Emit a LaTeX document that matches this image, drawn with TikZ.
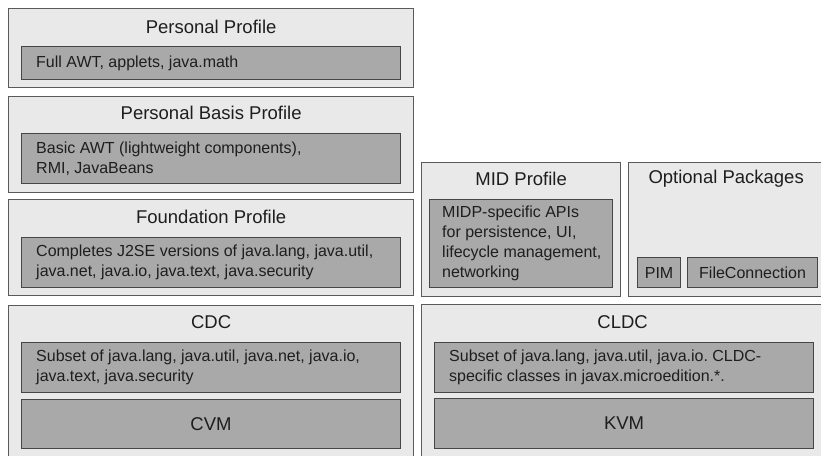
\documentclass[tikz,border=0pt]{standalone}
\usepackage{fontspec}
\setmainfont{Liberation Sans}
\frenchspacing
\definecolor{ofill}{HTML}{E9E9E9}
\definecolor{ifill}{HTML}{A9A9A9}
\definecolor{edge}{HTML}{5A5A5A}
\definecolor{iedge}{HTML}{464646}
\definecolor{ink}{HTML}{1E1E1E}
\begin{document}
\begin{tikzpicture}[x=1pt,y=-1pt,
 obox/.style={draw=edge, fill=ofill, line width=1.3pt, anchor=north west, inner sep=0pt},
 ibox/.style={draw=iedge, fill=ifill, line width=1.1pt, anchor=north west, inner sep=0pt},
 btxt/.style={anchor=west, inner sep=0pt, align=left, text=ink, font=\fontsize{16}{20}\selectfont\frenchspacing},
 vbox/.style={draw=iedge, fill=ifill, line width=1.1pt, anchor=north west, inner sep=0pt, align=center, text=ink, font=\fontsize{18.5}{22}\selectfont},
 pbox/.style={draw=iedge, fill=ifill, line width=1.1pt, anchor=north west, inner sep=0pt, align=center, text=ink, font=\fontsize{16}{20}\selectfont},
 ttl/.style={text=ink, font=\fontsize{18.5}{22}\selectfont, inner sep=0pt},
 ]
\useasboundingbox (0,0) rectangle (821,455);
\fill[white] (0,0) rectangle (821,455);

% Personal Profile
\node[obox, minimum width=405pt, minimum height=79pt] (pp) at (8,8) {};
\node[ttl] (ppt) at ([yshift=-19pt]pp.north) {Personal Profile};
\node[ibox, minimum width=379pt, minimum height=33pt] (ppi) at (21,46) {};
\node[btxt] (ppx) at ([xshift=15pt]ppi.west) {Full AWT, applets, java.math};

% Personal Basis Profile
\node[obox, minimum width=405pt, minimum height=96pt] (pb) at (8,96) {};
\node[ttl] (pbt) at ([yshift=-17pt]pb.north) {Personal Basis Profile};
\node[ibox, minimum width=379pt, minimum height=50pt] (pbi) at (21,133) {};
\node[btxt] (pbx) at ([xshift=15pt]pbi.west) {Basic AWT (lightweight components),\\RMI, JavaBeans};

% Foundation Profile
\node[obox, minimum width=405pt, minimum height=96pt] (fp) at (8,199) {};
\node[ttl] (fpt) at ([yshift=-18pt]fp.north) {Foundation Profile};
\node[ibox, minimum width=379pt, minimum height=50pt] (fpi) at (21,237) {};
\node[btxt] (fpx) at ([xshift=15pt]fpi.west) {Completes J2SE versions of java.lang, java.util,\\java.net, java.io, java.text, java.security};

% CDC
\node[obox, minimum width=405pt, minimum height=155pt] (cdc) at (8,305) {};
\node[ttl] (cdct) at ([yshift=-17pt]cdc.north) {CDC};
\node[ibox, minimum width=379pt, minimum height=50pt] (cdci) at (21,342) {};
\node[btxt] (cdcx) at ([xshift=15pt]cdci.west) {Subset of java.lang, java.util, java.net, java.io,\\java.text, java.security};
\node[vbox, minimum width=379pt, minimum height=49pt] (cvm) at (21,399) {CVM};

% MID Profile
\node[obox, minimum width=199pt, minimum height=134pt] (mid) at (421,162) {};
\node[ttl] (midt) at ([yshift=-17pt]mid.north) {MID Profile};
\node[ibox, minimum width=183pt, minimum height=88pt] (midi) at (429,199) {};
\node[btxt] (midx) at ([xshift=13pt]midi.west) {MIDP-specific APIs\\for persistence, UI,\\lifecycle management,\\networking};

% Optional Packages
\node[obox, minimum width=195pt, minimum height=134pt] (opt) at (628,162) {};
\node[ttl] (optt) at ([yshift=-17pt]opt.north) {Optional Packages};
\node[pbox, minimum width=43pt, minimum height=30pt] (pim) at (637,257) {PIM};
\node[pbox, minimum width=130pt, minimum height=30pt] (fc) at (687,257) {FileConnection};

% CLDC
\node[obox, minimum width=402pt, minimum height=155pt] (cldc) at (421,304) {};
\node[ttl] (cldct) at ([yshift=-18pt]cldc.north) {CLDC};
\node[ibox, minimum width=379pt, minimum height=50pt] (cldci) at (434,342) {};
\node[btxt] (cldcx) at ([xshift=15pt]cldci.west) {Subset of java.lang, java.util, java.io. CLDC-\\specific classes in javax.microedition.*.};
\node[vbox, minimum width=379pt, minimum height=50pt] (kvm) at (434,398) {KVM};
\end{tikzpicture}
\end{document}
